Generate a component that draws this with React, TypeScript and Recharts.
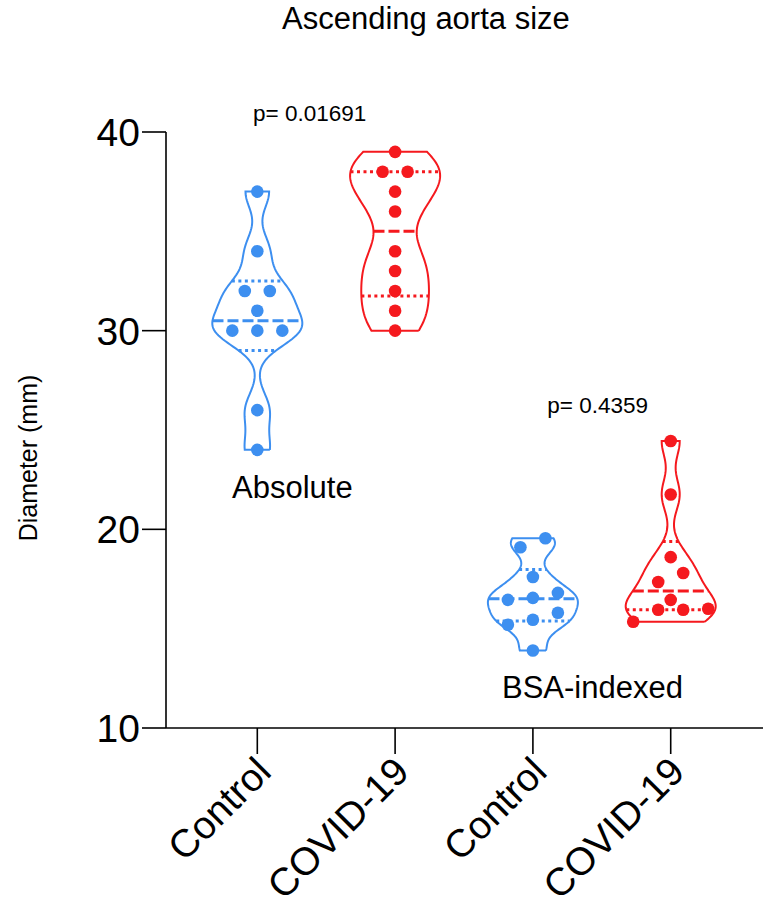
import { ComposedChart, Line, Scatter, XAxis, YAxis } from 'recharts'

const categories = ['Control', 'COVID-19', 'Control', 'COVID-19']
const categoryPositions = [1, 2, 3, 4]
const absoluteControl = [37, 34, 32, 32, 31, 30, 30, 30, 26, 24]
const absoluteCovid = [39, 38, 38, 37, 36, 34, 33, 32, 31, 30]
const bsaControl = [19.55, 19.1, 17.6, 16.8, 16.55, 16.45, 15.8, 15.45, 15.2, 13.9]
const bsaCovid = [24.45, 21.75, 18.6, 17.8, 17.35, 16.45, 16.0, 15.95, 15.95, 15.35]
const yTicks = [10, 20, 30, 40]
const pValues = ['p= 0.01691', 'p= 0.4359']
const groupLabels = ['Absolute', 'BSA-indexed']

const BLUE = '#3d8ff0'
const RED = '#f5191e'
const FONT = '"Liberation Sans", Arial, Helvetica, sans-serif'

const W = 763
const H = 908
const X_DOMAIN: [number, number] = [0.3374, 4.6698]
const HALF_WIDTH = 0.3266 // max half width of a violin, in x units
const DOT_STEP = 0.1814 // horizontal spacing of dots sharing a row
const ROW_TOL = 0.7

type Pt = { x: number; y: number }

const groups = [
  { values: absoluteControl, color: BLUE },
  { values: absoluteCovid, color: RED },
  { values: bsaControl, color: BLUE },
  { values: bsaCovid, color: RED },
].map((g, i) => ({ ...g, pos: categoryPositions[i] }))

function quantile(sorted: number[], p: number) {
  const n = sorted.length
  const pos = (n + 1) * p
  if (pos <= 1) return sorted[0]
  if (pos >= n) return sorted[n - 1]
  const lo = Math.floor(pos)
  return sorted[lo - 1] + (pos - lo) * (sorted[lo] - sorted[lo - 1])
}

function buildViolin(values: number[], pos: number) {
  const sorted = [...values].sort((a, b) => a - b)
  const n = sorted.length
  const mean = sorted.reduce((s, v) => s + v, 0) / n
  const sd = Math.sqrt(sorted.reduce((s, v) => s + (v - mean) ** 2, 0) / (n - 1))
  const q1 = quantile(sorted, 0.25)
  const med = quantile(sorted, 0.5)
  const q3 = quantile(sorted, 0.75)
  const h = 0.52 * Math.min(sd, (q3 - q1) / 1.34) * Math.pow(n, -0.2)
  const dens = (y: number) =>
    sorted.reduce((s, v) => s + Math.exp(-0.5 * ((y - v) / h) ** 2), 0)

  const lo = sorted[0]
  const hi = sorted[n - 1]
  const steps = 140
  const ys: number[] = []
  for (let i = 0; i <= steps; i++) ys.push(lo + ((hi - lo) * i) / steps)
  const ds = ys.map(dens)
  const maxD = Math.max(...ds)
  const half = (y: number) => (HALF_WIDTH * dens(y)) / maxD

  const right: Pt[] = ys.map((y, i) => ({ x: pos + (HALF_WIDTH * ds[i]) / maxD, y }))
  const left: Pt[] = ys.map((y, i) => ({ x: pos - (HALF_WIDTH * ds[i]) / maxD, y })).reverse()
  const outline = [...right, ...left, right[0]]

  const hline = (q: number): Pt[] => [
    { x: pos - half(q), y: q },
    { x: pos + half(q), y: q },
  ]

  // simple row-based beeswarm
  const rows: number[][] = []
  sorted.forEach((v) => {
    const last = rows[rows.length - 1]
    if (last && v - last[0] < ROW_TOL) last.push(v)
    else rows.push([v])
  })
  const dots: Pt[] = []
  rows.forEach((row) => {
    row.forEach((v, i) => dots.push({ x: pos + (i - (row.length - 1) / 2) * DOT_STEP, y: v }))
  })

  return { outline, median: hline(med), q1: hline(q1), q3: hline(q3), dots }
}

const violins = groups.map((g) => ({ ...g, ...buildViolin(g.values, g.pos) }))

function CategoryTick(props: any) {
  const { x, y, payload } = props
  return (
    <g transform={`translate(${x + 6},${y + 10})`}>
      <text
        textAnchor="end"
        transform="rotate(-45)"
        dy="0.36em"
        fontSize={39}
        fontFamily={FONT}
        fill="#000"
      >
        {categories[payload.value - 1]}
      </text>
    </g>
  )
}

export default function App() {
  return (
    <div style={{ position: 'absolute', left: 0, top: 0, width: W, height: H, background: '#fff' }}>
      <ComposedChart width={W} height={H} margin={{ top: 132, right: 0, bottom: 0, left: 0 }}>
        <XAxis
          type="number"
          dataKey="x"
          domain={X_DOMAIN}
          allowDataOverflow
          ticks={categoryPositions}
          height={180}
          tickSize={26}
          tickMargin={0}
          tick={<CategoryTick />}
          axisLine={{ stroke: '#000', strokeWidth: 1.6 }}
          tickLine={{ stroke: '#000', strokeWidth: 1.6 }}
        />
        <YAxis
          type="number"
          dataKey="y"
          domain={[10, 40]}
          allowDataOverflow
          ticks={yTicks}
          width={166}
          tickSize={24}
          tickMargin={2}
          tick={{ fontSize: 39, fill: '#000', fontFamily: FONT }}
          axisLine={{ stroke: '#000', strokeWidth: 1.6 }}
          tickLine={{ stroke: '#000', strokeWidth: 1.6 }}
        />
        {violins.map((v, i) => (
          <Line
            key={`outline-${i}`}
            data={v.outline}
            dataKey="y"
            type="linear"
            stroke={v.color}
            strokeWidth={2}
            dot={false}
            activeDot={false}
            isAnimationActive={false}
          />
        ))}
        {violins.map((v, i) => (
          <Line
            key={`median-${i}`}
            data={v.median}
            dataKey="y"
            stroke={v.color}
            strokeWidth={3}
            strokeDasharray="11 4"
            dot={false}
            activeDot={false}
            isAnimationActive={false}
          />
        ))}
        {violins.flatMap((v, i) =>
          [v.q1, v.q3].map((q, j) => (
            <Line
              key={`q-${i}-${j}`}
              data={q}
              dataKey="y"
              stroke={v.color}
              strokeWidth={3}
              strokeDasharray="3 3.5"
              dot={false}
              activeDot={false}
              isAnimationActive={false}
            />
          ))
        )}
        {violins.map((v, i) => (
          <Scatter
            key={`dots-${i}`}
            data={v.dots}
            fill={v.color}
            isAnimationActive={false}
            shape={(p: any) => <circle cx={p.cx} cy={p.cy} r={6.3} fill={v.color} />}
          />
        ))}
      </ComposedChart>
      <svg
        width={W}
        height={H}
        style={{ position: 'absolute', left: 0, top: 0, pointerEvents: 'none' }}
        fontFamily={FONT}
      >
        <text x={282} y={29} fontSize={31} fill="#000">
          Ascending aorta size
        </text>
        <text x={37} y={458} fontSize={25} fill="#000" textAnchor="middle" transform="rotate(-90 37 458)">
          Diameter (mm)
        </text>
        <text x={253} y={121} fontSize={22.5} fill="#000">
          {pValues[0]}
        </text>
        <text x={648} y={413} fontSize={22.5} fill="#000" textAnchor="end">
          {pValues[1]}
        </text>
        <text x={232} y={498} fontSize={31} fill="#000">
          {groupLabels[0]}
        </text>
        <text x={502} y={698} fontSize={31} fill="#000">
          {groupLabels[1]}
        </text>
      </svg>
    </div>
  )
}
